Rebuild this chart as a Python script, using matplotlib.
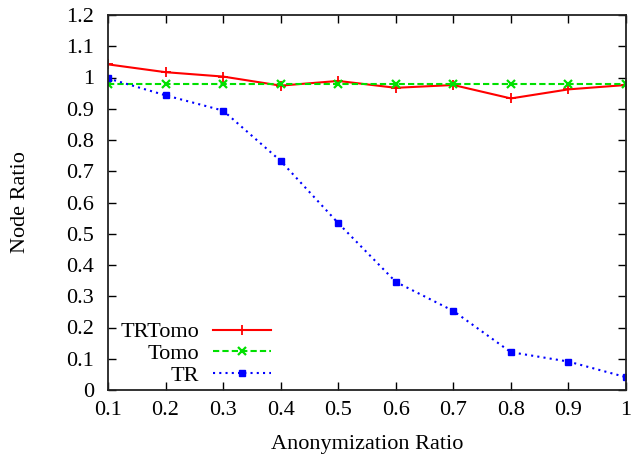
import matplotlib
matplotlib.use("Agg")
import matplotlib.pyplot as plt
import numpy as np

plt.rcParams['font.family'] = ['Liberation Serif', 'DejaVu Serif']

ratios = [0.1, 0.2, 0.3, 0.4, 0.5, 0.6, 0.7, 0.8, 0.9, 1.0]
trtomo = [1.042, 1.017, 1.003, 0.974, 0.989, 0.967, 0.976, 0.933, 0.962, 0.976]
tomo = [0.978, 0.978, 0.978, 0.978, 0.978, 0.978, 0.978, 0.978, 0.978, 0.978]
tr = [0.997, 0.943, 0.894, 0.733, 0.534, 0.346, 0.253, 0.121, 0.091, 0.041]

xticks = [0.1, 0.2, 0.3, 0.4, 0.5, 0.6, 0.7, 0.8, 0.9, 1.0]
xticklabels = ['0.1', '0.2', '0.3', '0.4', '0.5', '0.6', '0.7', '0.8', '0.9', '1']
yticks = [0.0, 0.1, 0.2, 0.3, 0.4, 0.5, 0.6, 0.7, 0.8, 0.9, 1.0, 1.1, 1.2]
yticklabels = ['0', '0.1', '0.2', '0.3', '0.4', '0.5', '0.6', '0.7', '0.8', '0.9', '1', '1.1', '1.2']

fig = plt.figure(figsize=(6.32, 4.59), dpi=100)
ax = fig.add_axes([108/632, 1 - 390/459, (626-108)/632, (390-15)/459])

ax.plot(ratios, trtomo, color='#ff0000', lw=1.5, marker='+', ms=7, mew=1.3, label='TRTomo')
ax.plot(ratios, tomo, color='#00e000', lw=1.5, ls=(0, (3, 1.5)), marker='x', ms=5.5, mew=1.6, label='Tomo')
ax.plot(ratios, tr, color='#0000ff', lw=1.5, ls=(0, (1, 2)), marker='s', ms=5, mew=1, label='TR')

ax.set_xlim(0.1, 1.0)
ax.set_ylim(0, 1.2)
ax.set_xticks(xticks)
ax.set_xticklabels(xticklabels)
ax.set_yticks(yticks)
ax.set_yticklabels(yticklabels)
ax.tick_params(direction='in', length=6, width=1, top=True, right=True, labelsize=16)
ax.tick_params(axis='x', pad=8)
ax.tick_params(axis='y', pad=10)
for s in ax.spines.values():
    s.set_linewidth(1.3)
    s.set_color('#222222')

ax.set_xlabel('Anonymization Ratio', fontsize=16, labelpad=11)
ax.set_ylabel('Node Ratio', fontsize=16, labelpad=26)

leg = ax.legend(loc='lower left', bbox_to_anchor=(-0.006, -0.03), frameon=False, markerfirst=False,
                fontsize=16, handlelength=2.6, handletextpad=0.63, labelspacing=0.05, borderaxespad=0.3)
# right-align the labels so the samples line up, gnuplot style
for col in leg._legend_handle_box.get_children():
    col.align = 'right'

fig.savefig('out.png', dpi=100)
